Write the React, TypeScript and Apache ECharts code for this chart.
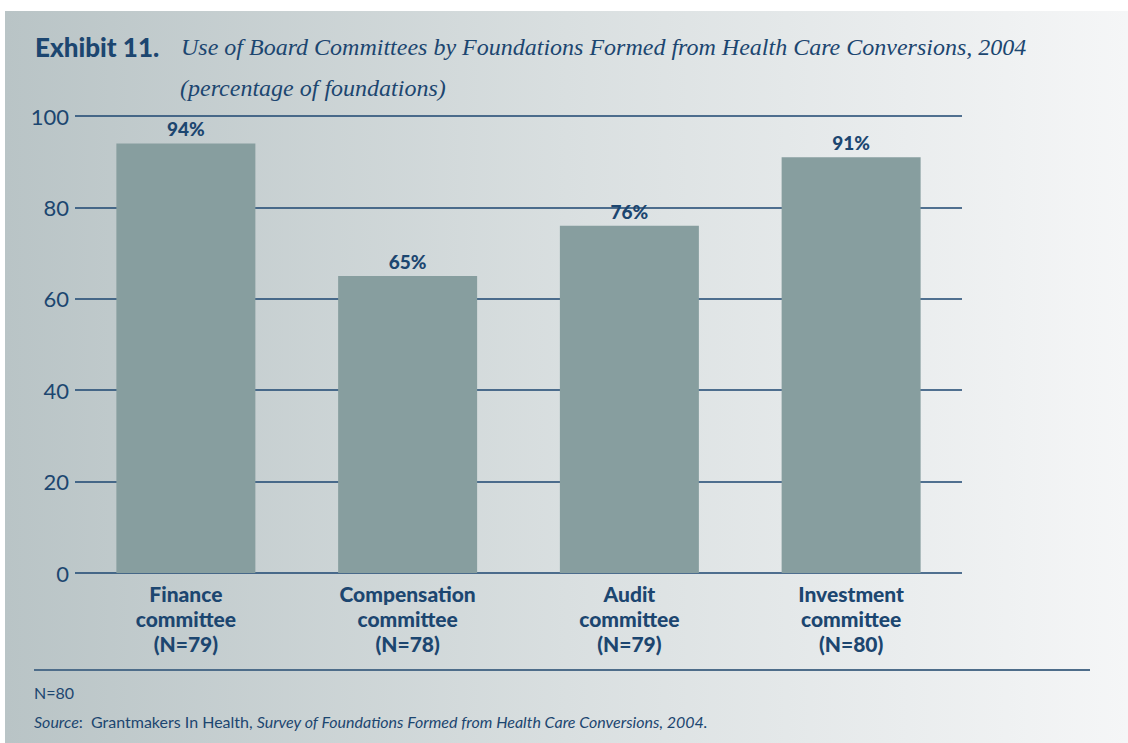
import React, { useEffect, useRef } from "react";
import * as echarts from "echarts";

const categories = [
  "Finance\ncommittee\n(N=79)",
  "Compensation\ncommittee\n(N=78)",
  "Audit\ncommittee\n(N=79)",
  "Investment\ncommittee\n(N=80)",
];
const values = [94, 65, 76, 91];
const yTicks = [0, 20, 40, 60, 80, 100];

const NAVY = "#1c4670";
const SANS = "Lato, 'Open Sans', sans-serif";
const SERIF = "'Liberation Serif', 'DejaVu Serif', serif";

export default function App() {
  const ref = useRef<HTMLDivElement>(null);
  useEffect(() => {
    if (!ref.current) return;
    const chart = echarts.init(ref.current, null, { renderer: "svg" });
    chart.setOption({
      animation: false,
      backgroundColor: "#ffffff",
      graphic: [
        {
          type: "rect",
          z: -10,
          shape: { x: 5, y: 11, width: 1123, height: 732 },
          style: {
            fill: new echarts.graphic.LinearGradient(0, 0, 1, 0, [
              { offset: 0, color: "#b9c4c6" },
              { offset: 0.5, color: "#d9dfe0" },
              { offset: 1, color: "#f5f6f7" },
            ]),
          },
          silent: true,
        },
        {
          type: "text",
          x: 35,
          y: 47,
          style: {
            text: "Exhibit 11.",
            font: `900 26px ${SANS}`,
            fill: NAVY,
            verticalAlign: "middle",
          },
        },
        {
          type: "text",
          x: 181,
          y: 47,
          style: {
            text: "Use of Board Committees by Foundations Formed from Health Care Conversions, 2004",
            font: `italic 24px ${SERIF}`,
            fill: NAVY,
            verticalAlign: "middle",
          },
        },
        {
          type: "text",
          x: 180,
          y: 88,
          style: {
            text: "(percentage of foundations)",
            font: `italic 24px ${SERIF}`,
            fill: NAVY,
            verticalAlign: "middle",
          },
        },
        {
          type: "line",
          shape: { x1: 34, y1: 670, x2: 1090, y2: 670 },
          style: { stroke: "#4e6d8a", lineWidth: 2 },
        },
        {
          type: "text",
          x: 34,
          y: 692,
          style: {
            text: "N=80",
            font: `16px ${SANS}`,
            fill: NAVY,
            verticalAlign: "middle",
          },
        },
        {
          type: "text",
          x: 34,
          y: 721,
          style: {
            text: "{i|Source}:  Grantmakers In Health, {i|Survey of Foundations Formed from Health Care Conversions, 2004.}",
            font: `16px ${SANS}`,
            fill: NAVY,
            verticalAlign: "middle",
            rich: {
              i: { fontStyle: "italic", fontFamily: SANS, fontSize: 16, fill: NAVY, color: NAVY },
            },
          },
        },
      ],
      grid: { left: 75, right: 166, top: 116, bottom: 170, containLabel: false },
      xAxis: {
        type: "category",
        data: categories,
        axisLine: { show: false },
        axisTick: { show: false },
        axisLabel: {
          color: NAVY,
          fontFamily: SANS,
          fontWeight: 900,
          fontSize: 21,
          lineHeight: 25,
          margin: 8,
          interval: 0,
        },
      },
      yAxis: {
        type: "value",
        min: yTicks[0],
        max: yTicks[yTicks.length - 1],
        interval: 20,
        axisLine: { show: false },
        axisTick: { show: false },
        axisLabel: {
          color: NAVY,
          fontFamily: SANS,
          fontSize: 22,
          margin: 6,
        },
        splitLine: { lineStyle: { color: NAVY, width: 1.5 } },
      },
      series: [
        {
          type: "bar",
          data: values,
          barWidth: 139,
          itemStyle: { color: "#879e9f" },
          z: 3,
          label: {
            show: true,
            position: "top",
            distance: 5,
            formatter: "{c}%",
            color: NAVY,
            fontFamily: SANS,
            fontWeight: 900,
            fontSize: 19,
          },
        },
      ],
    });
    return () => chart.dispose();
  }, []);
  return (
    <div style={{ position: "absolute", left: 0, top: 0, width: 1128, height: 743, background: "#fff" }}>
      <div ref={ref} style={{ width: 1128, height: 743 }} />
    </div>
  );
}
